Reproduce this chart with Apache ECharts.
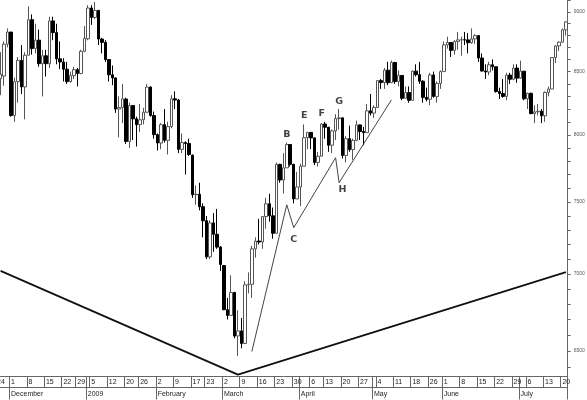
<!DOCTYPE html>
<html><head><meta charset="utf-8">
<script src="https://cdn.jsdelivr.net/npm/echarts@6/dist/echarts.min.js"></script>
<style>html,body{margin:0;padding:0;background:#fff}#c{width:587px;height:400px}</style>
</head><body><div id="c"></div>
<script>
const dates = [
'2008-11-24','2008-11-25','2008-11-26','2008-11-28',
'2008-12-01','2008-12-02','2008-12-03','2008-12-04','2008-12-05','2008-12-08','2008-12-09','2008-12-10','2008-12-11','2008-12-12',
'2008-12-15','2008-12-16','2008-12-17','2008-12-18','2008-12-19','2008-12-22','2008-12-23','2008-12-24','2008-12-26','2008-12-29','2008-12-30','2008-12-31',
'2009-01-02','2009-01-05','2009-01-06','2009-01-07','2009-01-08','2009-01-09','2009-01-12','2009-01-13','2009-01-14','2009-01-15','2009-01-16',
'2009-01-20','2009-01-21','2009-01-22','2009-01-23','2009-01-26','2009-01-27','2009-01-28','2009-01-29','2009-01-30',
'2009-02-02','2009-02-03','2009-02-04','2009-02-05','2009-02-06','2009-02-09','2009-02-10','2009-02-11','2009-02-12','2009-02-13',
'2009-02-17','2009-02-18','2009-02-19','2009-02-20','2009-02-23','2009-02-24','2009-02-25','2009-02-26','2009-02-27',
'2009-03-02','2009-03-03','2009-03-04','2009-03-05','2009-03-06','2009-03-09','2009-03-10','2009-03-11','2009-03-12','2009-03-13',
'2009-03-16','2009-03-17','2009-03-18','2009-03-19','2009-03-20','2009-03-23','2009-03-24','2009-03-25','2009-03-26','2009-03-27','2009-03-30','2009-03-31',
'2009-04-01','2009-04-02','2009-04-03','2009-04-06','2009-04-07','2009-04-08','2009-04-09','2009-04-13','2009-04-14','2009-04-15','2009-04-16','2009-04-17',
'2009-04-20','2009-04-21','2009-04-22','2009-04-23','2009-04-24','2009-04-27','2009-04-28','2009-04-29','2009-04-30',
'2009-05-01','2009-05-04','2009-05-05','2009-05-06','2009-05-07','2009-05-08','2009-05-11','2009-05-12','2009-05-13','2009-05-14','2009-05-15',
'2009-05-18','2009-05-19','2009-05-20','2009-05-21','2009-05-22','2009-05-26','2009-05-27','2009-05-28','2009-05-29',
'2009-06-01','2009-06-02','2009-06-03','2009-06-04','2009-06-05','2009-06-08','2009-06-09','2009-06-10','2009-06-11','2009-06-12',
'2009-06-15','2009-06-16','2009-06-17','2009-06-18','2009-06-19','2009-06-22','2009-06-23','2009-06-24','2009-06-25','2009-06-26','2009-06-29','2009-06-30',
'2009-07-01','2009-07-02','2009-07-06','2009-07-07','2009-07-08','2009-07-09','2009-07-10','2009-07-13','2009-07-14','2009-07-15','2009-07-16','2009-07-17','2009-07-20','2009-07-21'
];
const opens = [
8046,8443,8464,8727,
8829,8149,8419,8592,8376,8635,8934,8691,8761,8565,8630,8565,8924,8824,8605,8579,8520,8419,8468,8516,8484,8668,
8772,9035,8954,9015,8770,8742,8599,8474,8449,8200,8212,8279,7949,8228,8123,8078,8116,8175,8375,8149,
8001,7937,8078,7957,8063,8281,8271,7889,7940,7933,7845,7553,7556,7466,7366,7115,7351,7271,7182,
7056,6763,6726,6876,6595,6627,6547,6926,6930,7170,7224,7217,7396,7487,7401,7278,7776,7660,7750,7925,7776,7522,
7609,7762,7978,8018,7976,7790,7837,8083,8058,7920,8030,8125,8131,7842,7970,7887,7957,8076,8025,8016,8186,
8168,8212,8427,8411,8512,8410,8575,8419,8469,8285,8331,8269,8504,8475,8422,8292,8277,8473,8300,8404,
8500,8721,8741,8675,8750,8763,8764,8763,8739,8771,8799,8612,8505,8497,8556,8540,8339,8323,8300,8472,8438,8529,
8447,8504,8281,8325,8164,8178,8183,8147,8332,8359,8616,8712,8744,8848
];
const highs = [
8600,8660,8750,8860,
8830,8450,8620,8720,8660,9050,8980,8900,8850,8680,8680,8960,8960,8900,8750,8610,8580,8500,8540,8530,8680,8880,
9060,9060,9088,9015,8780,8760,8600,8550,8450,8300,8400,8290,8250,8230,8140,8240,8210,8400,8380,8180,
8010,8090,8200,8100,8310,8340,8280,8010,7950,7970,7850,7620,7640,7490,7400,7370,7420,7450,7190,
7060,6840,6990,6880,6760,6710,6950,7010,7190,7250,7380,7400,7530,7560,7460,7790,7780,7860,7940,7925,7780,7720,
7780,8080,8020,8020,7980,7870,8090,8100,8060,8040,8160,8200,8131,7990,8070,7970,8110,8080,8060,8240,8320,
8230,8430,8440,8530,8580,8590,8580,8510,8470,8380,8380,8510,8560,8580,8430,8370,8490,8500,8420,8510,
8750,8790,8741,8760,8830,8790,8830,8820,8860,8810,8800,8650,8560,8580,8600,8540,8370,8440,8490,8490,8560,8560,
8590,8504,8330,8330,8230,8240,8200,8340,8380,8620,8720,8750,8860,8920
];
const lows = [
8046,8310,8385,8700,
8140,8100,8250,8320,8120,8635,8640,8650,8540,8300,8460,8530,8760,8560,8520,8420,8400,8410,8440,8380,8480,8660,
8760,8890,8940,8720,8650,8580,8420,8390,8170,7980,8090,7930,7900,7960,7910,8020,8080,8170,8140,7970,
7880,7890,7940,7850,8050,8200,7860,7860,7700,7840,7530,7480,7440,7250,7100,7100,7150,7170,7020,
6760,6700,6726,6580,6470,6517,6547,6870,6840,7110,7200,7170,7310,7360,7240,7278,7640,7560,7750,7760,7490,7522,
7470,7762,7890,7890,7770,7760,7837,7970,7870,7860,7960,8040,7820,7790,7870,7810,7950,7960,7920,8016,8150,
8130,8212,8360,8360,8390,8409,8400,8380,8270,8280,8250,8268,8460,8400,8250,8260,8230,8290,8250,8360,
8500,8690,8620,8640,8680,8630,8720,8650,8730,8730,8580,8500,8440,8470,8510,8330,8280,8290,8270,8400,8430,8410,
8440,8270,8200,8160,8090,8150,8090,8100,8300,8359,8570,8670,8740,8800
];
const closes = [
8443,8479,8727,8829,
8149,8419,8592,8376,8635,8934,8691,8761,8565,8630,8565,8924,8824,8605,8579,8520,8419,8468,8516,8484,8668,8776,
9035,8953,9015,8770,8742,8599,8474,8449,8200,8212,8281,7949,8228,8123,8078,8116,8175,8375,8149,8001,
7937,8078,7957,8063,8281,8271,7889,7940,7933,7850,7553,7556,7466,7366,7115,7351,7271,7182,7063,
6763,6726,6876,6594,6627,6547,6926,6930,7170,7224,7217,7396,7487,7401,7278,7776,7660,7750,7925,7776,7522,7609,
7762,7978,8018,7976,7790,7837,8083,8058,7920,8030,8125,8131,7842,7970,7887,7957,8076,8025,8016,8186,8168,
8212,8427,8411,8512,8410,8575,8419,8469,8285,8331,8269,8504,8475,8422,8292,8277,8473,8300,8404,8500,
8721,8741,8675,8750,8763,8764,8763,8739,8771,8799,8612,8505,8497,8556,8540,8339,8323,8300,8472,8438,8529,8447,
8504,8281,8325,8164,8178,8183,8147,8332,8359,8616,8712,8744,8848,8916
];
const monthLabels = {'01':'2009','02':'February','03':'March','04':'April','05':'May','06':'June','07':'July','08':'August','09':'September','10':'October','11':'November','12':'December'};
const yLabelValues = [6500,7000,7500,8000,8500,9000];
const yTickValues = [6400,6500,6600,6700,6800,6900,7000,7100,7200,7300,7400,7500,7600,7700,7800,7900,8000,8100,8200,8300,8400,8500,8600,8700,8800,8900,9000,9100];
const vLineDates = ['2008-11-25','2009-03-06','2009-07-21'];
const vLineValues = [7020,6354,7012];
const channelDates = ['2009-03-12','2009-03-26','2009-03-30','2009-04-16','2009-04-17','2009-05-08'];
const channelValues = [6497,7480,7317,7826,7640,8273];
const letterNames = ['B','C','E','F','G','H'];
const letterDates = ['2009-03-26','2009-03-30','2009-04-02','2009-04-09','2009-04-17','2009-04-20'];
const letterValues = [8000,7233,8147,8162,8260,7590];

function dow(i){ return new Date(dates[i]+'T00:00:00Z').getUTCDay(); }
function isWeekStart(i){ return i===0 || dow(i) < dow(i-1); }
function isMonthStart(i){ return i>0 && dates[i].slice(5,7) !== dates[i-1].slice(5,7); }

const candleData = dates.map((d,i)=>[opens[i],closes[i],lows[i],highs[i]]);
const chart = echarts.init(document.getElementById('c'), null, {renderer:'canvas'});
const axisColor = '#666';
chart.setOption({
  animation:false,
  backgroundColor:'#fff',
  grid:{left:-4.66, right:19.3, top:0, bottom:23.5, containLabel:false, outerBoundsMode:'none'},
  xAxis:[{
    type:'category', data:dates, position:'bottom', boundaryGap:true,
    axisLine:{show:true, lineStyle:{color:axisColor,width:1}},
    axisTick:{show:true, alignWithLabel:false, length:11, interval:(i)=>isWeekStart(i)||isMonthStart(i), lineStyle:{color:axisColor,width:1}},
    axisLabel:{show:true, interval:(i)=>isWeekStart(i), formatter:(v)=>String(parseInt(v.slice(8,10),10)), align:'left', margin:2, fontSize:7, color:'#222', fontFamily:'Liberation Sans', showMinLabel:true, showMaxLabel:true},
    splitLine:{show:false}
  },{
    type:'category', data:dates, position:'bottom', offset:11, boundaryGap:true,
    axisLine:{show:true, lineStyle:{color:axisColor,width:1}},
    axisTick:{show:true, alignWithLabel:false, length:12, interval:(i)=>isMonthStart(i), lineStyle:{color:axisColor,width:1}},
    axisLabel:{show:true, interval:(i)=>isMonthStart(i), formatter:(v)=>monthLabels[v.slice(5,7)], align:'left', margin:3, fontSize:7, color:'#222', fontFamily:'Liberation Sans', showMinLabel:true, showMaxLabel:true},
    splitLine:{show:false}
  }],
  yAxis:{
    type:'log', logBase:10, min:6343, max:9105, position:'right',
    axisLine:{show:true, lineStyle:{color:axisColor,width:1}},
    axisTick:{show:true, customValues:yTickValues, length:3, lineStyle:{color:axisColor}},
    axisLabel:{show:true, customValues:yLabelValues, formatter:(v)=>String(Math.round(v)), fontSize:5, color:'#555', margin:6, fontFamily:'Liberation Sans'},
    splitLine:{show:false}, minorTick:{show:false}
  },
  series:[{
    type:'candlestick', data:candleData, barWidth:3,
    itemStyle:{color:'#ffffff', color0:'#000000', borderColor:'#555', borderColor0:'#000', borderWidth:1}
  },{
    type:'line', data:vLineDates.map((d,i)=>[d,vLineValues[i]]), symbol:'none',
    lineStyle:{color:'#111', width:1.8}, z:5
  },{
    type:'line', data:channelDates.map((d,i)=>[d,channelValues[i]]), symbol:'none',
    lineStyle:{color:'#444', width:1}, z:5
  },{
    type:'scatter', data:letterDates.map((d,i)=>[d,letterValues[i],letterNames[i]]), symbolSize:0,
    encode:{x:0,y:1},
    label:{show:true, position:'inside', formatter:(p)=>p.value[2], fontSize:9.5, fontWeight:'bold', color:'#111', fontFamily:'DejaVu Sans'},
    z:6
  }]
});
</script></body></html>
